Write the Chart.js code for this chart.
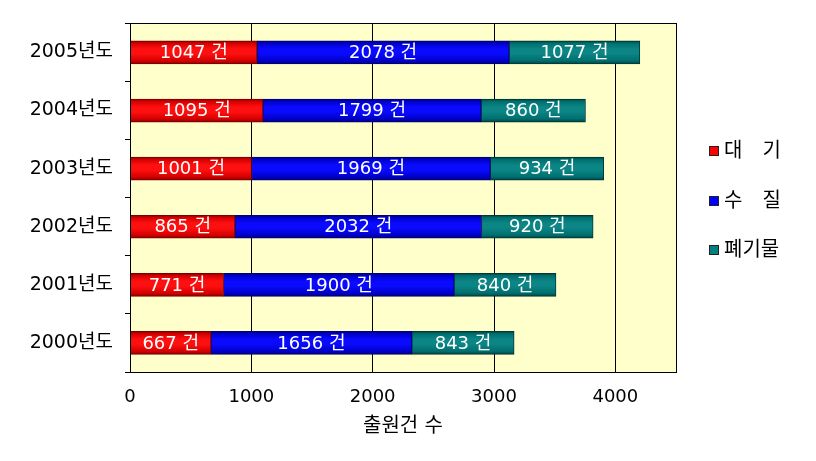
<!DOCTYPE html>
<html>
<head>
<meta charset="utf-8">
<script src="https://cdn.jsdelivr.net/npm/chart.js@4.4.1/dist/chart.umd.min.js"></script>
<style>
  html, body { margin: 0; padding: 0; background: #fff; }
  #wrap { width: 816px; height: 461px; }
</style>
</head>
<body>
<div id="wrap"><canvas id="chart" width="816" height="461"></canvas></div>
<script>
  const years = ['2000년도', '2001년도', '2002년도', '2003년도', '2004년도', '2005년도'];
  const airCounts = [667, 771, 865, 1001, 1095, 1047];
  const waterCounts = [1656, 1900, 2032, 1969, 1799, 2078];
  const wasteCounts = [843, 840, 920, 934, 860, 1077];
  const seriesNames = ['대\u3000기', '수\u3000질', '폐기물'];
  const xTicks = [0, 1000, 2000, 3000, 4000];
  const xMax = 4500;
  const unitLabel = '건';
  const axisTitle = '출원건 수';

  const fontFamily = "'DejaVu Sans', 'Noto Sans CJK KR', sans-serif";

  const palette = {
    air: { dark: '#7a0000', mid: '#d40000', bright: '#ff1010', key: '#ff0000' },
    water: { dark: '#000070', mid: '#0000c8', bright: '#0a0aff', key: '#0000ff' },
    waste: { dark: '#003838', mid: '#006e6e', bright: '#0b8585', key: '#008080' }
  };

  // vertical shading for each bar, built from the y scale position
  const shade = (c) => (ctx) => {
    const chart = ctx.chart;
    const yScale = chart.scales.y;
    if (!yScale || ctx.dataIndex === undefined) return c.mid;
    const cy = yScale.getPixelForValue(ctx.dataIndex);
    if (!isFinite(cy)) return c.mid;
    const g = chart.ctx.createLinearGradient(0, cy - 12, 0, cy + 12);
    g.addColorStop(0, c.dark);
    g.addColorStop(0.12, c.mid);
    g.addColorStop(0.35, c.bright);
    g.addColorStop(0.55, c.bright);
    g.addColorStop(0.85, c.mid);
    g.addColorStop(1, c.dark);
    return g;
  };

  const plotBackground = {
    id: 'plotBackground',
    beforeDraw(chart) {
      const { ctx, chartArea: a } = chart;
      ctx.save();
      ctx.fillStyle = '#ffffcc';
      ctx.fillRect(a.left, a.top, a.right - a.left, a.bottom - a.top);
      ctx.restore();
    },
    afterDraw(chart) {
      const { ctx, chartArea: a } = chart;
      ctx.save();
      ctx.strokeStyle = '#000';
      ctx.lineWidth = 1;
      ctx.strokeRect(Math.round(a.left) + 0.5, Math.round(a.top) + 0.5,
        Math.round(a.right - a.left), Math.round(a.bottom - a.top));
      ctx.restore();
    }
  };

  const segmentLabels = {
    id: 'segmentLabels',
    afterDatasetsDraw(chart) {
      const { ctx } = chart;
      ctx.save();
      ctx.fillStyle = '#fff';
      ctx.font = '18px ' + fontFamily;
      ctx.textAlign = 'center';
      ctx.textBaseline = 'middle';
      chart.data.datasets.forEach((ds, i) => {
        chart.getDatasetMeta(i).data.forEach((el, j) => {
          const { x, base, y } = el.getProps(['x', 'base', 'y'], true);
          ctx.fillText(ds.data[j] + ' ' + unitLabel, (x + base) / 2, y + 1);
        });
      });
      ctx.restore();
    }
  };

  const sideLegend = {
    id: 'sideLegend',
    afterDraw(chart) {
      const { ctx } = chart;
      const left = 709;
      const firstY = 151;
      const gap = 49.5;
      ctx.save();
      ctx.font = '20px ' + fontFamily;
      ctx.textBaseline = 'middle';
      ctx.textAlign = 'left';
      chart.data.datasets.forEach((ds, i) => {
        const cy = Math.round(firstY + i * gap);
        ctx.fillStyle = ds.keyColor;
        ctx.fillRect(left, cy - 5, 10, 10);
        ctx.strokeStyle = '#222';
        ctx.lineWidth = 1;
        ctx.strokeRect(left + 0.5, cy - 4.5, 9, 9);
        ctx.fillStyle = '#000';
        ctx.fillText(ds.label, left + 15, cy + 1);
      });
      ctx.restore();
    }
  };

  const makeSet = (label, data, c) => ({
    label: label,
    data: data,
    keyColor: c.key,
    backgroundColor: shade(c),
    borderColor: c.dark,
    borderWidth: 1,
    borderSkipped: false,
    barThickness: 23
  });

  new Chart(document.getElementById('chart'), {
    type: 'bar',
    data: {
      labels: years,
      datasets: [
        makeSet(seriesNames[0], airCounts, palette.air),
        makeSet(seriesNames[1], waterCounts, palette.water),
        makeSet(seriesNames[2], wasteCounts, palette.waste)
      ]
    },
    options: {
      indexAxis: 'y',
      responsive: false,
      animation: false,
      layout: { padding: { top: 19, right: 140, left: 0, bottom: 0 } },
      plugins: {
        legend: { display: false },
        tooltip: { enabled: false }
      },
      scales: {
        x: {
          stacked: true,
          min: 0,
          max: xMax,
          afterBuildTicks: (scale) => {
            scale.ticks = xTicks.map(v => ({ value: v }));
          },
          afterFit: (scale) => { scale.height = 89; },
          grid: { color: '#000', lineWidth: 1, drawTicks: false },
          border: { color: '#000' },
          ticks: {
            color: '#000',
            padding: 15,
            maxRotation: 0,
            callback: (v) => String(v),
            font: { family: fontFamily, size: 18 }
          },
          title: {
            display: true,
            text: axisTitle,
            color: '#000',
            padding: { top: 0, bottom: 22 },
            font: { family: fontFamily, size: 20 }
          }
        },
        y: {
          stacked: true,
          reverse: true,
          afterFit: (scale) => { scale.width = 130; },
          grid: { color: '#000', drawOnChartArea: false, drawTicks: true, tickLength: 5 },
          border: { color: '#000' },
          ticks: {
            color: '#000',
            padding: 12,
            font: { family: fontFamily, size: 19 }
          }
        }
      }
    },
    plugins: [plotBackground, segmentLabels, sideLegend]
  });
</script>
</body>
</html>
